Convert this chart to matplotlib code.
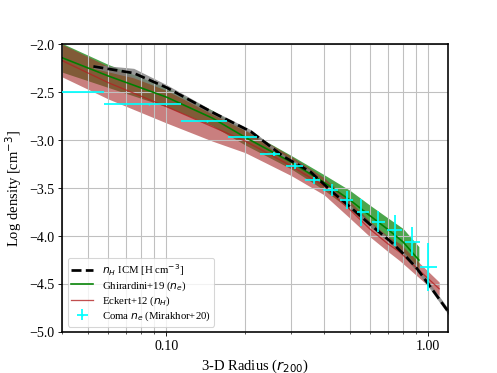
import numpy as np
import matplotlib
matplotlib.use("Agg")
import matplotlib.pyplot as plt
from matplotlib.ticker import FormatStrFormatter, NullFormatter

#--------------------DATA------------------------#
# n_H ICM profile (black dashed) and its scatter band
r_icm = [0.0526, 0.075, 0.10, 0.15, 0.21, 0.28, 0.355, 0.43, 0.50, 0.60, 0.72, 0.80, 0.90, 1.0, 1.2]
n_icm = [-2.23, -2.30, -2.45, -2.71, -2.91, -3.17, -3.33, -3.54, -3.69, -3.88, -4.06, -4.18, -4.33, -4.50, -4.80]
icm_err = [0.02, 0.05, 0.03, 0.02, 0.02, 0.02, 0.02, 0.02, 0.02, 0.02, 0.02, 0.02, 0.03, 0.03, 0.03]

# Ghirardini+19 (n_e)
r_gh = [0.04, 0.06, 0.10, 0.15, 0.20, 0.30, 0.40, 0.50, 0.60, 0.70, 0.80, 0.92]
n_gh = [-2.14, -2.33, -2.55, -2.77, -2.97, -3.23, -3.44, -3.62, -3.79, -3.93, -4.06, -4.25]
gh_err = [0.15, 0.12, 0.10, 0.08, 0.08, 0.07, 0.08, 0.10, 0.11, 0.12, 0.14, 0.14]

# Eckert+12 (n_H)
r_ek = [0.04, 0.06, 0.10, 0.15, 0.20, 0.30, 0.40, 0.50, 0.60, 0.70, 0.78, 0.90, 1.10]
n_ek = [-2.17, -2.40, -2.65, -2.86, -3.01, -3.27, -3.48, -3.72, -3.93, -4.08, -4.17, -4.33, -4.55]
ek_err = [0.17, 0.17, 0.17, 0.15, 0.12, 0.10, 0.09, 0.09, 0.08, 0.08, 0.09, 0.08, 0.07]

# Coma n_e (Mirakhor+20)
r_coma = [0.03, 0.086, 0.143, 0.2, 0.257, 0.31, 0.365, 0.429, 0.489, 0.555, 0.643, 0.749, 0.866, 1.0]
r_lo = [0.01, 0.0575, 0.114, 0.172, 0.228, 0.285, 0.339, 0.397, 0.461, 0.535, 0.610, 0.695, 0.816, 0.932]
r_hi = [0.0575, 0.114, 0.170, 0.222, 0.272, 0.333, 0.387, 0.453, 0.517, 0.592, 0.685, 0.793, 0.932, 1.08]
n_coma = [-2.50, -2.625, -2.80, -2.965, -3.14, -3.27, -3.42, -3.52, -3.625, -3.75, -3.85, -3.94, -4.06, -4.32]
n_coma_err = [0.0, 0.0, 0.0, 0.0, 0.02, 0.03, 0.04, 0.06, 0.095, 0.14, 0.11, 0.16, 0.15, 0.25]

#--------------------PLOTTING------------------------#
plt.rcParams['font.family'] = ['Liberation Serif', 'DejaVu Serif']
plt.rcParams['mathtext.fontset'] = 'dejavusans'

fig, ax = plt.subplots(figsize=(6.4, 4.8), dpi=77.8)

r_gh_a, n_gh_a, gh_err_a = np.array(r_gh), np.array(n_gh), np.array(gh_err)
r_ek_a, n_ek_a, ek_err_a = np.array(r_ek), np.array(n_ek), np.array(ek_err)
r_icm_a, n_icm_a, icm_err_a = np.array(r_icm), np.array(n_icm), np.array(icm_err)

ax.fill_between(r_gh_a, n_gh_a - gh_err_a, n_gh_a + gh_err_a, color='green', alpha=0.7, lw=0)
ax.fill_between(r_ek_a, n_ek_a - ek_err_a, n_ek_a + ek_err_a, color='brown', alpha=0.6, lw=0)
ax.fill_between(r_icm_a, n_icm_a - icm_err_a, n_icm_a + icm_err_a, color='gray', alpha=0.8, lw=0)

ax.plot(r_gh, n_gh, color='green', lw=1.5, label='Ghirardini+19 ($n_e$)')
ax.plot(r_ek, n_ek, color='firebrick', lw=1.2, alpha=0.8, label='Eckert+12 ($n_H$)')
ax.plot(r_icm, n_icm, 'k--', lw=2.5, label='$n_H$ ICM [H cm$^{-3}$]')

xerr = [np.array(r_coma) - np.array(r_lo), np.array(r_hi) - np.array(r_coma)]
ax.errorbar(r_coma, n_coma, xerr=xerr, yerr=n_coma_err, fmt='.', ms=2, color='cyan',
            elinewidth=1.6, capsize=0, zorder=5, label='Coma $n_e$ (Mirakhor+20)')

ax.set_xscale('log')
ax.set_xlim(0.04, 1.19)
ax.set_ylim(-5.0, -2.0)
ax.xaxis.set_major_formatter(FormatStrFormatter('%.2f'))
ax.xaxis.set_minor_formatter(NullFormatter())
ax.grid(which='both', axis='x', color='#c0c0c0', lw=1)
ax.grid(which='major', axis='y', color='#c0c0c0', lw=1)
ax.tick_params(labelsize=13)
for s in ax.spines.values():
    s.set_linewidth(1.5)

ax.set_xlabel('3-D Radius ($r_{200}$)', fontsize=13.5)
ax.set_ylabel('Log density [cm$^{-3}$]', fontsize=13.5)

h, l = ax.get_legend_handles_labels()
order = [2, 0, 1, 3]
ax.legend([h[i] for i in order], [l[i] for i in order], loc='lower left', fontsize=10,
          labelspacing=0.15, borderpad=0.35)

fig.savefig('out.png', dpi=77.8)
